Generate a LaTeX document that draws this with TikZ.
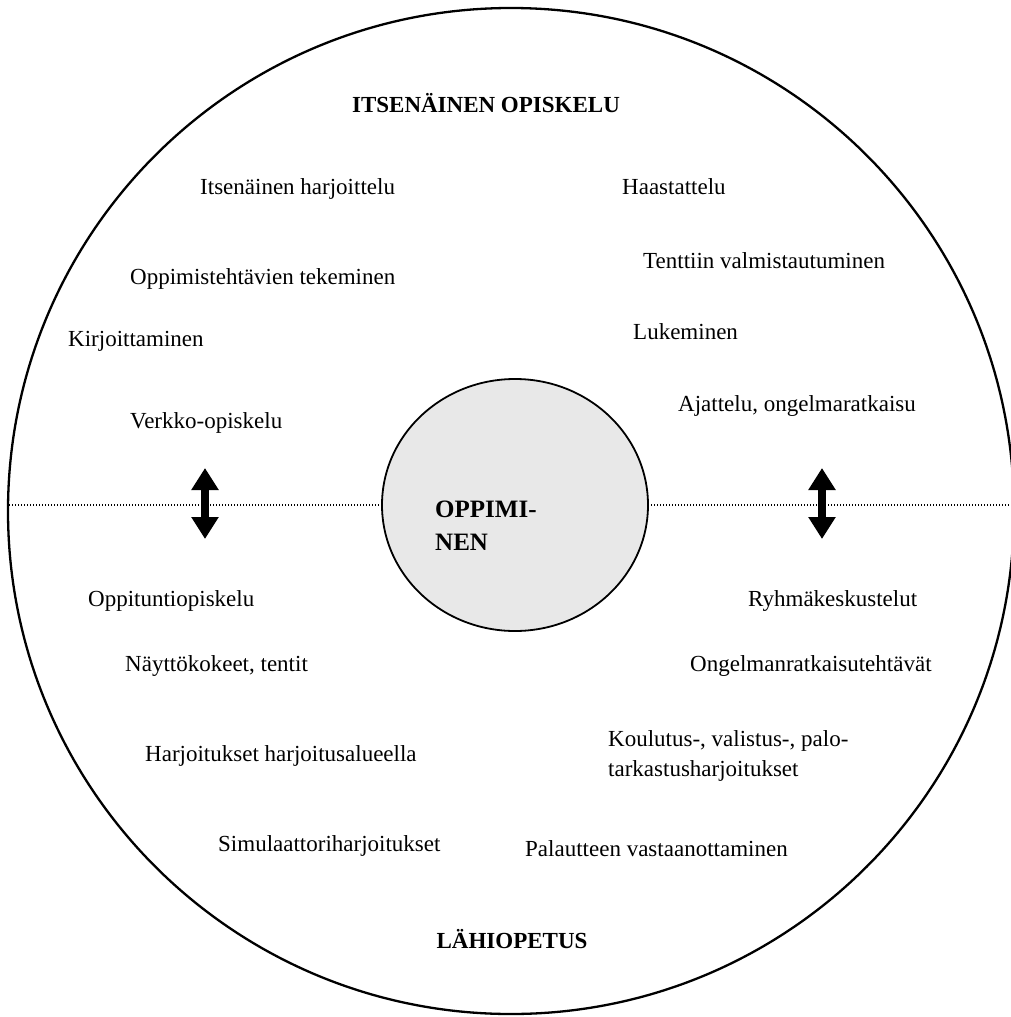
\documentclass[tikz,border=0pt]{standalone}
\usepackage{fontspec}
\setmainfont{Liberation Serif}
\usetikzlibrary{arrows.meta}

\begin{document}
\begin{tikzpicture}[x=1pt, y=-1pt,
    item/.style={anchor=base west, inner sep=0pt, font=\fontsize{23}{28}\selectfont},
    title/.style={anchor=base, inner sep=0pt, font=\fontsize{23}{28}\selectfont\bfseries},
    twoway/.style={line width=8pt, {Triangle[width=26pt,length=22pt]}-{Triangle[width=26pt,length=22pt]}}]

    % Define parameters for easy adjustment
    \def\outerRadius{503pt}   % Radius of the big circle
    \def\innerRx{133pt}       % Half width of the centre circle
    \def\innerRy{126pt}       % Half height of the centre circle
    \def\splitY{505}          % Height of the dotted dividing line

    \useasboundingbox (0,0) rectangle (1011,1017);
    \clip (0,0) rectangle (1011,1017);

    % 1. Draw the outer circle
    \coordinate (middle) at (511,511);
    \draw[line width=2.3pt] (middle) circle (\outerRadius);

    % 2. Draw the dotted dividing line
    \coordinate (west) at (9,\splitY);
    \coordinate (east) at (1011,\splitY);
    \draw[line width=1.2pt, dash pattern=on 1.2pt off 1.8pt] (west) -- (east);

    % 3. Draw the centre circle with its text
    \coordinate (core) at (515,505);
    \draw[line width=1.8pt, fill=black!9] (core) ellipse [x radius=\innerRx, y radius=\innerRy];
    \node[anchor=base west, inner sep=0pt, align=left, font=\fontsize{25}{33}\selectfont\bfseries]
        (learn) at (435,550) {OPPIMI-\\NEN};

    % 4. Add the two double arrows
    \foreach \name/\x in {left/205, right/822} {
        \coordinate (\name top) at (\x,468);
        \coordinate (\name bottom) at (\x,539);
        \draw[twoway] (\name top) -- (\name bottom);
    }

    % 5. Add the titles of the two halves
    \node[title] (self) at (486,112) {ITSENÄINEN OPISKELU};
    \node[title] (contact) at (512,948) {LÄHIOPETUS};

    % 6. Add the activities
    \foreach \name/\x/\y/\txt in {
        ihar/200/194/{Itsenäinen harjoittelu},
        haas/622/194/{Haastattelu},
        oppt/130/284/{Oppimistehtävien tekeminen},
        tent/643/268/{Tenttiin valmistautuminen},
        luke/633/339/{Lukeminen},
        kirj/68/346/{Kirjoittaminen},
        ajat/678/411/{Ajattelu, ongelmaratkaisu},
        verk/130/428/{Verkko-opiskelu},
        oppi/88/606/{Oppituntiopiskelu},
        ryhm/748/606/{Ryhmäkeskustelut},
        nayt/125/671/{Näyttökokeet, tentit},
        onge/690/671/{Ongelmanratkaisutehtävät},
        harj/145/761/{Harjoitukset harjoitusalueella},
        simu/218/851/{Simulaattoriharjoitukset},
        pala/525/856/{Palautteen vastaanottaminen}} {
        \node[item] (\name) at (\x,\y) {\txt};
    }
    \node[item, align=left, font=\fontsize{23}{30}\selectfont] (koul) at (608,776)
        {Koulutus-, valistus-, palo-\\tarkastusharjoitukset};
\end{tikzpicture}
\end{document}
